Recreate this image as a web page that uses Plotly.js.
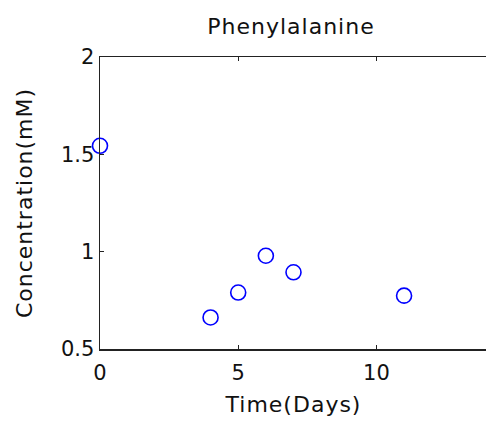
<!DOCTYPE html>
<html>
<head>
<meta charset="utf-8">
<script src="https://cdn.plot.ly/plotly-3.0.1.min.js"></script>
<style>
html, body { margin: 0; padding: 0; overflow: hidden; background: #fff; width: 486px; height: 427px; }
#wrap { width: 486px; height: 427px; overflow: hidden; position: relative; }
#chart { width: 510px; height: 427px; position: absolute; left: 0; top: 0; }
#chart .gtitle, #chart .xtitle, #chart .ytitle { letter-spacing: 1px; }
</style>
</head>
<body>
<div id="wrap"><div id="chart"></div></div>
<script>
var timeDays = [0, 4, 5, 6, 7, 11];
var concentration = [1.544, 0.662, 0.790, 0.979, 0.894, 0.774];
var xTicks = [0, 5, 10];
var yTicks = [0.5, 1, 1.5, 2];
var yTickLabels = ['0.5', '1', '1.5', '2'];

var fontFam = 'DejaVu Sans, sans-serif';
var axisCol = '#222222';
var textCol = '#111111';

var trace = {
  x: timeDays,
  y: concentration,
  type: 'scatter',
  mode: 'markers',
  cliponaxis: false,
  marker: {
    symbol: 'circle-open',
    size: 15,
    color: '#0000ff',
    line: { width: 1.6, color: '#0000ff' }
  },
  showlegend: false,
  hoverinfo: 'x+y'
};

var layout = {
  width: 510,
  height: 427,
  margin: { l: 99.5, r: 22.7, t: 57, b: 77.5, pad: 0 },
  paper_bgcolor: '#ffffff',
  plot_bgcolor: '#ffffff',
  font: { family: fontFam, size: 21, color: textCol },
  title: {
    text: 'Phenylalanine',
    font: { family: fontFam, size: 22, color: textCol },
    x: 291 / 510, xref: 'container', xanchor: 'center',
    y: 1 - 26 / 427, yref: 'container', yanchor: 'middle'
  },
  xaxis: {
    range: [0, 14],
    tickmode: 'array',
    tickvals: xTicks,
    ticktext: xTicks.map(String),
    ticks: 'inside',
    ticklen: 4,
    tickwidth: 1.2,
    tickcolor: axisCol,
    showline: true,
    linecolor: axisCol,
    linewidth: 1.5,
    mirror: 'ticks',
    showgrid: false,
    zeroline: false,
    ticklabelstandoff: 4,
    tickfont: { family: fontFam, size: 21, color: textCol },
    title: { text: 'Time(Days)', font: { family: fontFam, size: 22, color: textCol }, standoff: 13 },
    automargin: false
  },
  yaxis: {
    range: [0.5, 2],
    tickmode: 'array',
    tickvals: yTicks,
    ticktext: yTickLabels,
    ticks: 'inside',
    ticklen: 4,
    tickwidth: 1.2,
    tickcolor: axisCol,
    showline: true,
    linecolor: axisCol,
    linewidth: 1.5,
    mirror: false,
    showgrid: false,
    zeroline: false,
    tickfont: { family: fontFam, size: 21, color: textCol },
    title: { text: 'Concentration(mM)', font: { family: fontFam, size: 22, color: textCol }, standoff: 22 },
    automargin: false
  },
  yaxis2: {
    overlaying: 'y',
    anchor: 'x',
    side: 'right',
    range: [0.5, 2],
    tickmode: 'array',
    tickvals: yTicks,
    showticklabels: false,
    ticks: 'inside',
    ticklen: 4,
    tickwidth: 1.2,
    tickcolor: axisCol,
    showline: false,
    showgrid: false,
    zeroline: false,
    automargin: false
  }
};

Plotly.newPlot('chart', [trace], layout, { displayModeBar: false, staticPlot: true });
</script>
</body>
</html>
